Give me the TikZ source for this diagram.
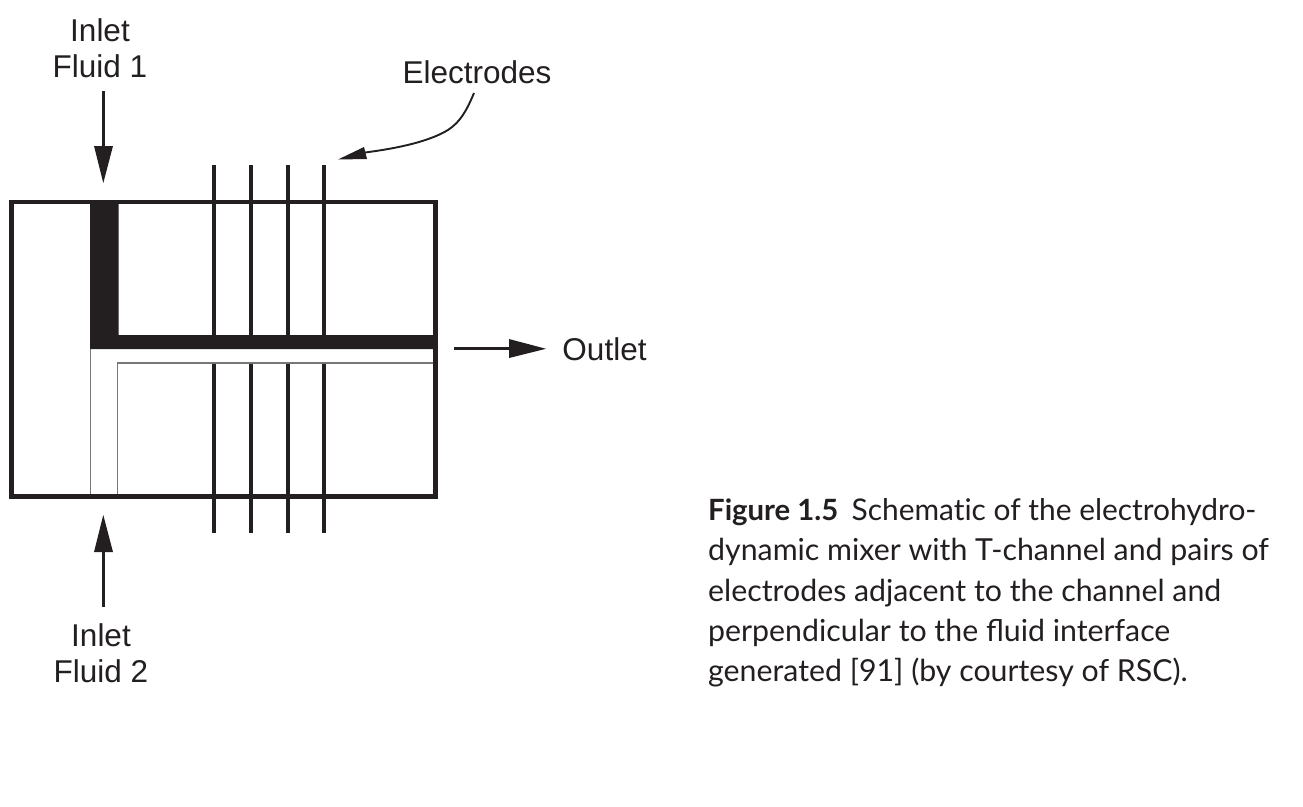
\documentclass[tikz,border=0pt]{standalone}
\usepackage{fontspec}
\setmainfont{Liberation Sans}
\newfontfamily\capfont{Lato}
\definecolor{ink}{HTML}{231F20}
\definecolor{thin}{HTML}{777777}
\tikzset{
  lbl/.style={font=\fontsize{31.5}{36.5}\selectfont,text=ink,inner sep=0pt,align=center},
  electrode/.style={draw=ink,line width=3.6pt},
  frame/.style={draw=ink,line width=4.6pt},
  thinline/.style={draw=thin,line width=1.2pt},
  flow/.style={draw=ink,line width=3pt},
  head/.style={fill=ink,draw=none},
  caption/.style={font=\capfont\fontsize{30.3}{40.4}\selectfont,text=ink,inner sep=0pt,align=left,anchor=north west}
}
\begin{document}
\begin{tikzpicture}[x=1pt,y=-1pt]
\useasboundingbox (0,0) rectangle (1303,806);
\fill[white] (0,0) rectangle (1303,806);
% channels
\fill[ink] (90,202) -- (118.5,202) -- (118.5,335) -- (434,335) -- (434,349) -- (90,349) -- cycle;
\draw[thinline] (90.5,349) -- (90.5,495);
\draw[thinline] (117.5,363) -- (117.5,495);
\draw[thinline] (117,363) -- (433.5,363) -- (433.5,349);
% electrodes
\foreach \n/\x in {a/214,b/251,c/287.7,d/324}{
  \coordinate (t\n) at (\x,165);
  \coordinate (m\n) at (\x,335);
  \coordinate (n\n) at (\x,363.5);
  \coordinate (l\n) at (\x,533);
  \draw[electrode] (t\n) -- (m\n);
  \draw[electrode] (n\n) -- (l\n);
}
\draw[frame] (11.3,201.8) rectangle (435.5,496.6);
% labels
\node[lbl] (in1) at (100,48) {Inlet\\Fluid 1};
\node[lbl] (in2) at (101,653) {Inlet\\Fluid 2};
\node[lbl] (el) at (477,72) {Electrodes};
\node[lbl] (out) at (604.5,349) {Outlet};
% arrows
\coordinate (a1s) at (103.3,91);
\coordinate (a1e) at (103.3,147);
\draw[flow] (a1s) -- (a1e);
\fill[head] (103.3,183) -- (94,146) -- (113,146) -- cycle;
\coordinate (a2s) at (103.3,607);
\coordinate (a2e) at (103.3,550);
\draw[flow] (a2s) -- (a2e);
\fill[head] (103.3,515) -- (94,552) -- (113,552) -- cycle;
\coordinate (a3s) at (454,348.8);
\coordinate (a3e) at (510,348.8);
\draw[flow] (a3s) -- (a3e);
\fill[head] (546,348.8) -- (509,339) -- (509,358) -- cycle;
\coordinate (a4s) at (474,93);
\coordinate (a4e) at (365,152.5);
\draw[draw=ink,line width=1.9pt] (a4s) .. controls (466,112) and (460,122) .. (448,130) .. controls (430,141) and (400,148) .. (a4e);
\fill[head] (338,159.5) -- (364,147) -- (367,159) -- cycle;
\node[caption] (cap) at (708,498) {{\fontsize{29.3}{40.4}\selectfont\textbf{Figure 1.5}\hspace{0.45em}}{\fontsize{29.9}{40.4}\selectfont Schemat\kern0pt ic of the electrohydro-}\\dynamic mixer with T-channel and pairs of\\electrodes adjacent to the channel and\\perpendicular to the fluid interface\\generated [91] (by courtesy of RSC).};
\end{tikzpicture}
\end{document}
